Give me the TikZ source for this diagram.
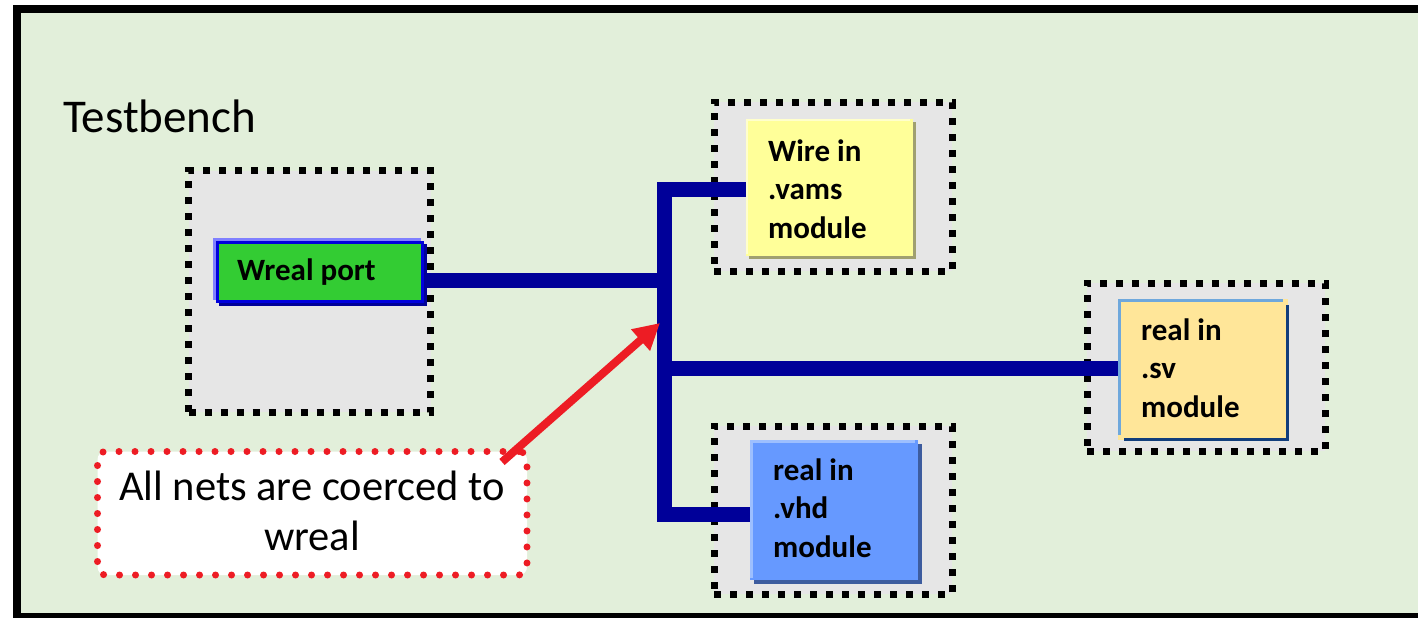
\documentclass[tikz,border=0pt]{standalone}
\usepackage{fontspec}
\setmainfont{Carlito}
\usetikzlibrary{arrows.meta,shadows}

\definecolor{benchbg}{HTML}{E2EFDA}
\definecolor{holder}{HTML}{E6E6E6}
\definecolor{busblue}{HTML}{000099}
\definecolor{notered}{HTML}{ED1C24}
\definecolor{portgreen}{HTML}{33CC33}
\definecolor{portedge}{HTML}{0000DD}
\definecolor{portlight}{HTML}{8080FF}
\definecolor{vamsfill}{HTML}{FFFF99}
\definecolor{vamslight}{HTML}{FFFFCC}
\definecolor{vamsshade}{HTML}{A0A070}
\definecolor{svfill}{HTML}{FFE699}
\definecolor{svlight}{HTML}{6FA8DC}
\definecolor{svdark}{HTML}{123E7C}
\definecolor{vhdfill}{HTML}{6699FF}
\definecolor{vhdlight}{HTML}{9DBFFF}
\definecolor{vhdshade}{HTML}{3D5C9E}

\tikzset{
  holderbox/.style={draw=black, fill=holder, line width=7pt,
    dash pattern=on 7pt off 9pt, rectangle, inner sep=0pt},
  modbox/.style={rectangle, inner sep=0pt},
  modlabel/.style={anchor=base west, align=left, inner sep=0pt,
    font=\fontsize{31}{38.5}\selectfont\bfseries},
  bus/.style={draw=busblue, line width=15pt, line join=miter},
  notebox/.style={draw=notered, fill=white, line width=7pt,
    dash pattern=on 0pt off 16pt, line cap=round, rounded corners=8pt,
    rectangle, inner sep=0pt},
  pointer/.style={draw=notered, fill=notered, line width=8pt,
    -{Triangle[length=26pt,width=27pt]}},
}

\begin{document}
\begin{tikzpicture}[x=1pt,y=-1pt]
\useasboundingbox (0,0) rectangle (1418,618);
\clip (0,0) rectangle (1418,618);

% testbench frame: left, top and bottom edges (the right edge lies off the page)
\fill[white] (0,0) rectangle (1418,618);
\fill[benchbg] (17,9) rectangle (1418,617);
\draw[line width=8pt, line join=miter] (1430,9) -- (17,9) -- (17,617) -- (1430,617);
\node[anchor=base west, inner sep=0pt, font=\fontsize{47}{56}\selectfont]
  (tbtitle) at (63,132) {Testbench};

% dotted module holders
\node[holderbox, minimum width=242pt, minimum height=241.5pt] (hport) at (309.5,291.25) {};
\node[holderbox, minimum width=238pt, minimum height=169pt]   (hvams) at (833,186.5) {};
\node[holderbox, minimum width=238pt, minimum height=168pt]   (hvhd)  at (833,510) {};
\node[holderbox, minimum width=238pt, minimum height=168pt]   (hsv)   at (1206,367) {};

% junction points of the shared net
\coordinate (jt) at (664.5,189);
\coordinate (jm) at (664.5,280);
\coordinate (jv) at (664.5,368.5);
\coordinate (jb) at (664.5,514.5);

% Wreal port
\fill[busblue] (219,244) rectangle (427,306);
\fill[portlight] (213,238) rectangle (421,300);
\node[modbox, draw=portedge, line width=3pt, fill=portgreen,
  minimum width=205pt, minimum height=59pt] (port) at (319.5,271.5) {};
\node[modlabel] (portlbl) at (237,280) {Wreal port};

% .vams module
\node[modbox, fill=vamsfill, minimum width=167pt, minimum height=137pt,
  general shadow={fill=vamsshade, shadow xshift=3pt, shadow yshift=-3pt}]
  (vams) at (829.5,187.5) {};
\draw[vamslight, line width=2pt] ([shift={(1,-2)}]vams.south west) -- ([shift={(1,1)}]vams.north west) -- ([shift={(-3,1)}]vams.north east);
\node[modlabel] (vamslbl) at (768,238) {Wire in\\.vams\\module};

% .sv module
\node[modbox, fill=svfill, minimum width=170pt, minimum height=141pt] (sv) at (1203,369.5) {};
\draw[svlight, line width=3pt] ([shift={(1.5,-5)}]sv.south west) -- ([shift={(1.5,1.5)}]sv.north west) -- ([shift={(-5,1.5)}]sv.north east);
\draw[svdark, line width=3pt] ([shift={(-0.5,6)}]sv.north east) -- ([shift={(-0.5,-0.5)}]sv.south east) -- ([shift={(6,-0.5)}]sv.south west);
\node[modlabel] (svlbl) at (1141,417) {real in\\.sv\\module};

% .vhd module
\node[modbox, fill=vhdfill, minimum width=168pt, minimum height=140pt,
  general shadow={fill=vhdshade, shadow xshift=4pt, shadow yshift=-4pt}]
  (vhd) at (834,510) {};
\draw[vhdlight, line width=3pt] ([shift={(1.5,-2)}]vhd.south west) -- ([shift={(1.5,1.5)}]vhd.north west) -- ([shift={(-3,1.5)}]vhd.north east);
\node[modlabel] (vhdlbl) at (773,557) {real in\\.vhd\\module};

% the shared net
\draw[bus] (vams.west |- jt) -- (jt) -- (jb) -- (vhd.west |- jb);
\draw[bus] (port.east |- jm) -- (jm);
\draw[bus] (jv) -- (sv.west |- jv);

% note with its pointer
\node[notebox, minimum width=429.5pt, minimum height=123.5pt] (note) at (312.25,513.25) {};
\node[anchor=base, align=center, inner sep=0pt,
  font=\fontsize{42.5}{50}\selectfont] (notelbl) at (312,550) {All nets are coerced to\\wreal};
\coordinate (ptail) at (502,462);
\coordinate (ptip) at (660,323);
\draw[pointer] (ptail) -- (ptip);
\end{tikzpicture}
\end{document}
